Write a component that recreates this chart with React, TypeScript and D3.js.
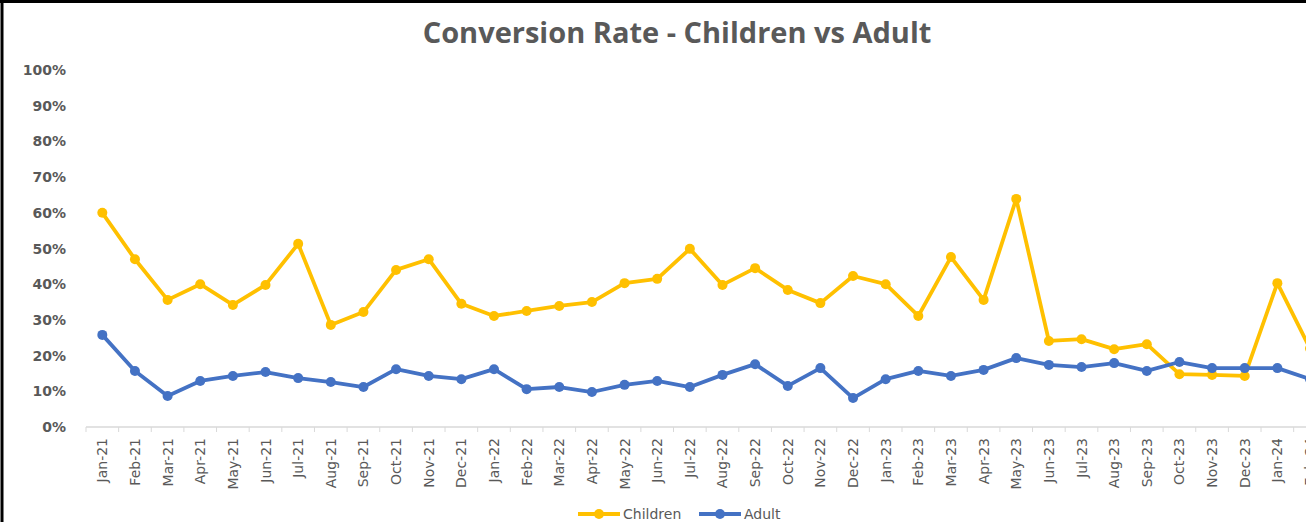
import React, { useEffect, useRef } from "react";
import * as d3 from "d3";

const months = [
  "Jan-21","Feb-21","Mar-21","Apr-21","May-21","Jun-21","Jul-21","Aug-21","Sep-21","Oct-21","Nov-21","Dec-21",
  "Jan-22","Feb-22","Mar-22","Apr-22","May-22","Jun-22","Jul-22","Aug-22","Sep-22","Oct-22","Nov-22","Dec-22",
  "Jan-23","Feb-23","Mar-23","Apr-23","May-23","Jun-23","Jul-23","Aug-23","Sep-23","Oct-23","Nov-23","Dec-23",
  "Jan-24","Feb-24",
];

const children = [
  0.60, 0.47, 0.356, 0.40, 0.342, 0.398, 0.513, 0.286, 0.322, 0.44, 0.47, 0.345,
  0.311, 0.325, 0.339, 0.35, 0.403, 0.415, 0.499, 0.398, 0.445, 0.384, 0.347, 0.423,
  0.40, 0.311, 0.476, 0.356, 0.639, 0.241, 0.246, 0.218, 0.232, 0.148, 0.146, 0.143,
  0.403, 0.22,
];

const adult = [
  0.258, 0.157, 0.087, 0.129, 0.143, 0.154, 0.137, 0.126, 0.112, 0.162, 0.143, 0.134,
  0.162, 0.106, 0.112, 0.098, 0.118, 0.129, 0.112, 0.146, 0.176, 0.115, 0.165, 0.081,
  0.134, 0.157, 0.143, 0.16, 0.193, 0.174, 0.168, 0.179, 0.157, 0.182, 0.165, 0.165,
  0.165, 0.134,
];

const yTicks = [0, 0.1, 0.2, 0.3, 0.4, 0.5, 0.6, 0.7, 0.8, 0.9, 1.0];

const seriesNames = ["Children", "Adult"];
const seriesColors = ["#FFC000", "#4472C4"];

const W = 1306;
const H = 522;

export default function App() {
  const ref = useRef<SVGSVGElement>(null);

  useEffect(() => {
    const svg = d3.select(ref.current);
    svg.selectAll("*").remove();

    const x = d3
      .scaleBand<string>()
      .domain(months)
      .range([86, 86 + months.length * 32.64])
      .paddingInner(0)
      .paddingOuter(0);
    const y = d3.scaleLinear().domain([0, 1]).range([427, 70]);
    const cx = (m: string) => (x(m) as number) + x.bandwidth() / 2;

    svg.append("rect").attr("x", 0).attr("y", 0).attr("width", W).attr("height", H).attr("fill", "#fff");

    // border
    svg.append("line").attr("x1", 2).attr("x2", 2).attr("y1", 0).attr("y2", H).attr("stroke", "#000").attr("stroke-width", 3);
    svg.append("line").attr("x1", 0).attr("x2", W).attr("y1", 1.5).attr("y2", 1.5).attr("stroke", "#000").attr("stroke-width", 3);

    // title
    svg
      .append("text")
      .attr("x", 677)
      .attr("y", 43)
      .attr("text-anchor", "middle")
      .attr("font-family", "Open Sans")
      .attr("font-weight", 700)
      .attr("font-size", 29)
      .attr("fill", "#595959")
      .text("Conversion Rate - Children vs Adult");

    // y tick labels
    const yAxis = svg.append("g");
    yAxis
      .selectAll("text")
      .data(yTicks)
      .join("text")
      .attr("x", 66)
      .attr("y", (d) => y(d) + 5)
      .attr("text-anchor", "end")
      .attr("font-family", "DejaVu Sans")
      .attr("font-weight", 700)
      .attr("font-size", 14)
      .attr("fill", "#595959")
      .text((d) => d3.format(".0%")(d));

    // x axis line and ticks
    const xAxisG = svg.append("g");
    xAxisG
      .append("line")
      .attr("x1", 86)
      .attr("x2", W)
      .attr("y1", y(0))
      .attr("y2", y(0))
      .attr("stroke", "#d9d9d9")
      .attr("stroke-width", 1.5);
    xAxisG
      .selectAll("line.tick")
      .data(months)
      .join("line")
      .attr("class", "tick")
      .attr("x1", (d) => x(d) as number)
      .attr("x2", (d) => x(d) as number)
      .attr("y1", y(0))
      .attr("y2", y(0) + 5)
      .attr("stroke", "#d9d9d9")
      .attr("stroke-width", 1);
    xAxisG
      .selectAll("text")
      .data(months)
      .join("text")
      .attr("transform", (d) => `translate(${cx(d) + 5},${y(0) + 11}) rotate(-90)`)
      .attr("text-anchor", "end")
      .attr("font-family", "DejaVu Sans")
      .attr("font-size", 14)
      .attr("fill", "#595959")
      .text((d) => d);

    const lineGen = d3
      .line<number>()
      .x((_, i) => cx(months[i]))
      .y((d) => y(d));

    [children, adult].forEach((vals, si) => {
      const g = svg.append("g");
      g.append("path")
        .attr("d", lineGen(vals) as string)
        .attr("fill", "none")
        .attr("stroke", seriesColors[si])
        .attr("stroke-width", 3.8)
        .attr("stroke-linejoin", "round");
      g.selectAll("circle")
        .data(vals)
        .join("circle")
        .attr("cx", (_, i) => cx(months[i]))
        .attr("cy", (d) => y(d))
        .attr("r", 5)
        .attr("fill", seriesColors[si]);
    });

    // legend
    const legendX = [578, 699];
    seriesNames.forEach((name, i) => {
      const g = svg.append("g").attr("transform", `translate(${legendX[i]},514)`);
      g.append("line").attr("x1", 0).attr("x2", 42).attr("y1", 0).attr("y2", 0).attr("stroke", seriesColors[i]).attr("stroke-width", 3.8);
      g.append("circle").attr("cx", 21).attr("cy", 0).attr("r", 5).attr("fill", seriesColors[i]);
      g.append("text")
        .attr("x", 45)
        .attr("y", 5)
        .attr("font-family", "DejaVu Sans")
        .attr("font-size", 14)
        .attr("fill", "#595959")
        .text(name);
    });
  }, []);

  return (
    <svg
      ref={ref}
      width={W}
      height={H}
      style={{ position: "fixed", left: 0, top: 0, display: "block" }}
    />
  );
}
